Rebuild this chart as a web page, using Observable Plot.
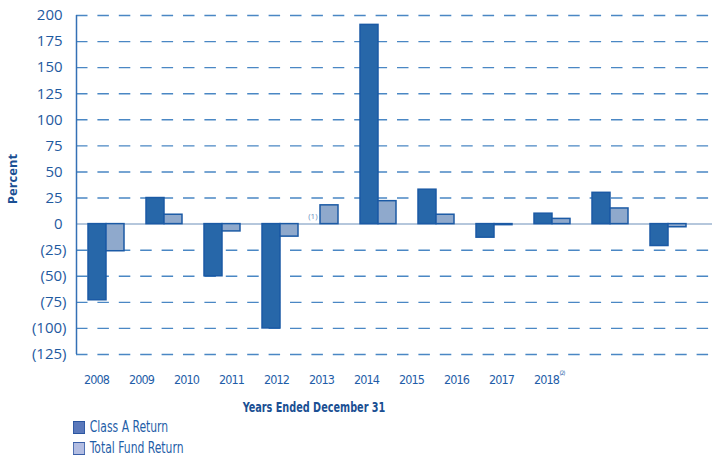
<!DOCTYPE html>
<html><head><meta charset="utf-8">
<script src="https://cdn.jsdelivr.net/npm/d3@7"></script>
<script src="https://cdn.jsdelivr.net/npm/@observablehq/plot@0.6"></script>
<style>
body{margin:0;background:#fff;}
#wrap{position:relative;width:712px;height:456px;overflow:hidden;font-family:"Open Sans",sans-serif;color:#1f5ea8;}
#main{position:absolute;left:0;top:0;}
#xlab{position:absolute;left:0;top:364px;}
.narrow{font-family:"DejaVu Sans Condensed","Roboto",sans-serif;font-stretch:condensed;}
#ytitle{position:absolute;left:12px;top:179px;transform:translate(-50%,-50%) rotate(-90deg);font-weight:700;font-size:13px;color:#1a4f93;white-space:nowrap;}
#xtitle{position:absolute;left:314px;top:407px;transform:translate(-50%,-50%) scaleX(0.77);font-weight:700;font-size:14px;color:#1a4f93;white-space:nowrap;line-height:16px;}
.leg{position:absolute;left:73px;display:flex;align-items:center;font-size:15px;line-height:14px;white-space:nowrap;transform:scaleX(0.8);transform-origin:0 50%;}
.sw{width:13px;height:11px;margin-right:6px;border:1px solid #2a55a0;}
</style></head>
<body><div id="wrap">
<div id="main"></div>
<div id="xlab"></div>
<div id="ytitle">Percent</div>
<div id="xtitle" class="narrow">Years Ended December 31</div>
<div class="leg narrow" style="top:420px"><div class="sw" style="background:#5b79bb"></div>Class A Return</div>
<div class="leg narrow" style="top:441px"><div class="sw" style="background:#b3bde2;border-color:#3a5fa8"></div>Total Fund Return</div>
</div>
<script>
const years = ["2008","2009","2010","2011","2012","2013","2014","2015","2016","2017","2018"];
const classA = [-73, 25, -50, -100, null, 191, 33, -13, 10, 30, -21];
const totalFund = [-26, 9, -7, -12, 18, 22, 9, -1, 5, 15, -3];
const yTicks = [-125,-100,-75,-50,-25,0,25,50,75,100,125,150,175,200];
const notes = [{year:"2012", text:"(1)"}];
const labelNotes = [{year:"2018", text:"(2)"}];

// layout (in pixel-like units of the x scale)
const BAR = 18, GAP = 22;
const xDomain = [-12, 624];
const bars = [];
let u = 0;
years.forEach((yr, i) => {
  [["Class A Return", classA[i]], ["Total Fund Return", totalFund[i]]].forEach(([s, v]) => {
    if (v != null) { bars.push({year: yr, series: s, value: v, x1: u, x2: u + BAR}); u += BAR; }
  });
  u += GAP;
});
const noteData = notes.map(n => ({...n, x: bars.find(b => b.year === n.year).x1}));

const fmt = d => d < 0 ? `(${-d})` : `${d}\u2008`;

const main = Plot.plot({
  width: 712, height: 364,
  marginTop: 15, marginBottom: 10, marginLeft: 76, marginRight: 0,
  style: {background: "transparent", color: "#1f5aa0", fontFamily: "Open Sans, sans-serif", fontSize: "15px"},
  x: {domain: xDomain, axis: null},
  y: {domain: [-125, 200], ticks: yTicks, tickSize: 0, tickPadding: 10, tickFormat: fmt, label: null},
  marks: [
    Plot.ruleY(yTicks.filter(d => d !== 0), {stroke: "#4a87c4", strokeWidth: 1.4, strokeDasharray: "11.5,9.9"}),
    Plot.ruleY([0], {stroke: "#9db4d0", strokeWidth: 1.5}),
    Plot.rect(bars, {x1: "x1", x2: "x2", y1: 0, y2: "value",
      fill: d => d.series === "Class A Return" ? "#2767a9" : "#8fa9cc",
      stroke: "#1b5aa5", strokeWidth: 1.5}),
    Plot.text(noteData, {x: "x", y: 0, text: "text", textAnchor: "end", dx: -3, dy: -8, fontSize: 8, fill: "#6a8fc0"}),
    Plot.ruleX([xDomain[0]], {stroke: "#3470b5", strokeWidth: 1.5})
  ]
});
document.getElementById("main").appendChild(main);

const xl = Plot.plot({
  width: 712, height: 30,
  marginTop: 0, marginBottom: 0, marginLeft: 0, marginRight: 0,
  style: {background: "transparent", color: "#1f5ea8", fontFamily: "DejaVu Sans Condensed, Roboto, sans-serif", fontSize: "12.5px", letterSpacing: "-0.9px"},
  x: {type: "point", domain: years, range: [93, 548.5], padding: 0, axis: null},
  marks: [
    Plot.text(years, {x: d => d, text: d => d, fill: "#1f5ea8"}),
    Plot.text(labelNotes, {x: "year", text: "text", textAnchor: "start", dx: 13, dy: -6, fontSize: 6, fill: "#1f5ea8", style: {letterSpacing: "0px"}})
  ]
});
document.getElementById("xlab").appendChild(xl);
</script>
</body></html>
